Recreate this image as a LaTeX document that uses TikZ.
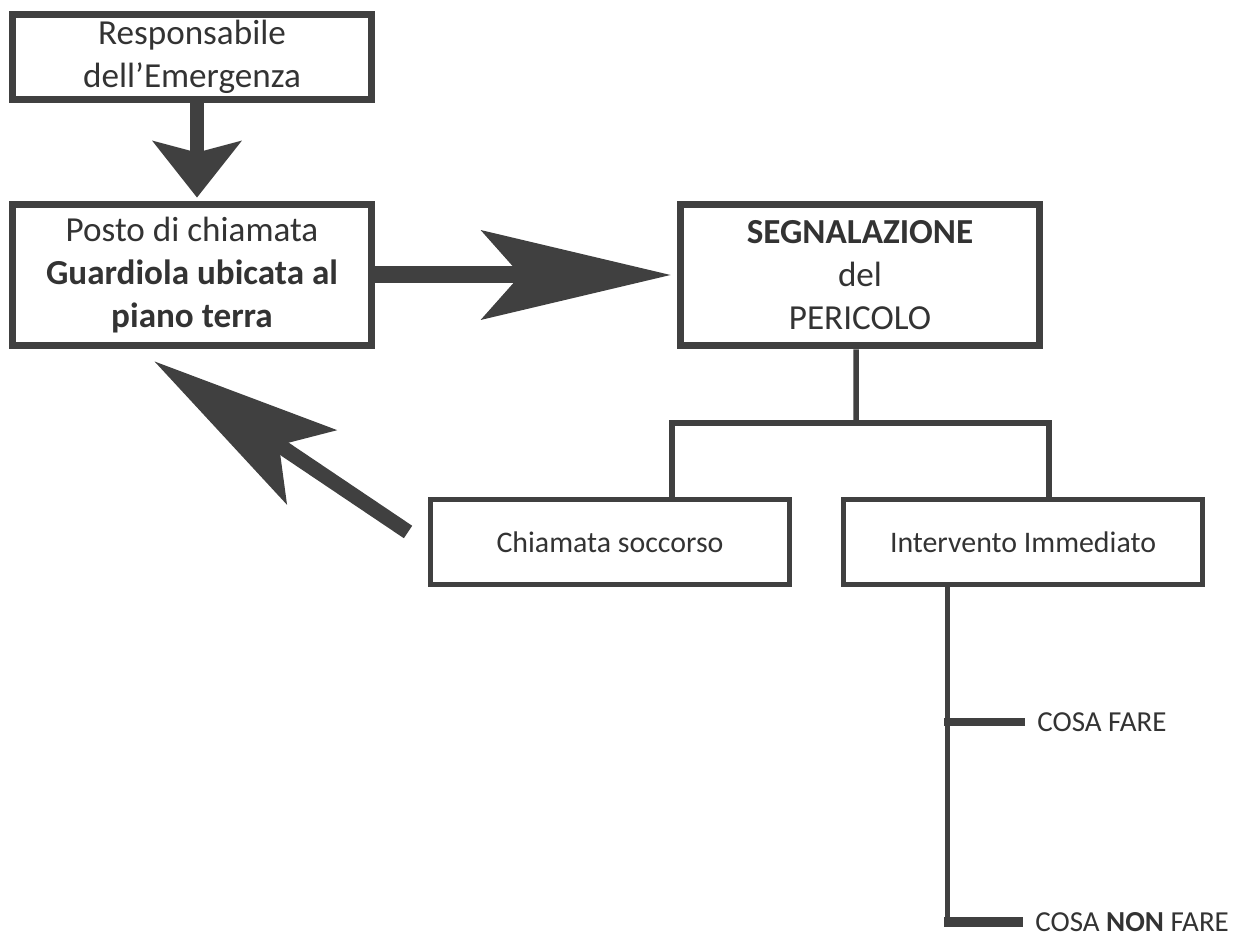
\documentclass[tikz,border=0pt]{standalone}
\usepackage{fontspec}
\setmainfont{Carlito}
\usetikzlibrary{arrows.meta,positioning,calc}
\definecolor{dkgray}{HTML}{404040}
\definecolor{txtgray}{HTML}{333333}
\tikzset{
  bigbox/.style={draw=dkgray,line width=0.14cm,minimum width=7.2cm,inner sep=0pt,align=center,text=txtgray,font=\fontsize{20}{24.4}\selectfont},
  smallbox/.style={draw=dkgray,line width=0.1cm,minimum width=7.18cm,minimum height=1.7cm,inner sep=0pt,align=center,text=txtgray,font=\fontsize{17}{20.7}\selectfont},
  lbl/.style={text=txtgray,inner sep=0pt,font=\fontsize{16.5}{20}\selectfont},
  fatarr/.style={draw=dkgray,line width=#1,-{Stealth[length=3.8cm,width=1.8cm,inset=0.8cm,line width=0pt]}},
  downarr/.style={draw=dkgray,line width=0.28cm,-{Stealth[length=1.14cm,width=1.8cm,inset=0.24cm,line width=0pt]}},
  tree/.style={draw=dkgray,line width=0.11cm},
  spine/.style={draw=dkgray,line width=0.1cm},
  brnch/.style={draw=dkgray,line width=#1}
}
\begin{document}
\begin{tikzpicture}[x=0.02cm,y=-0.02cm]
  \useasboundingbox (0,0) rectangle (1245,935);
  % Top chain
  \node[bigbox, minimum height=1.7cm] (resp) at (192,57) {Responsabile\\dell’Emergenza};
  \node[bigbox, minimum height=2.84cm] (posto) at (192,275) {Posto di chiamata\\\textbf{Guardiola ubicata al}\\\textbf{piano terra}};
  \node[bigbox, minimum height=2.84cm] (segn) at (860,275) {\textbf{SEGNALAZIONE}\\del\\PERICOLO};

  % Second level
  \node[smallbox] (chiam) at (610,542) {Chiamata soccorso};
  \node[smallbox] (interv) at (1023,542) {Intervento Immediato};

  % Labels on the right
  \node[lbl, anchor=west] (fare) at (1037,722) {COSA FARE};
  \node[lbl, anchor=west] (nonfare) at (1035,922) {COSA \textbf{NON} FARE};

  % Big arrows
  \draw[downarr, shorten >=0.06cm] ([xshift=0.1cm]resp.south) -- ([xshift=0.1cm]posto.north);
  \draw[fatarr=0.34cm, shorten >=0.12cm] (posto.east) -- (segn.west);
  \coordinate (cstart) at ($(chiam.west)+(-20,-10)$);
  \coordinate (ptip) at ($(posto.south west)+(146,12)$);
  \draw[fatarr=0.3cm] (cstart) -- (ptip);

  % Tree below the warning box
  \coordinate (hub) at (856,423);
  \draw[tree] ([xshift=-0.08cm]segn.south) -- (hub);
  \draw[tree] ([xshift=1.24cm]chiam.north) |- (hub) -| ([xshift=0.52cm]interv.north);

  % Spine with the two branches
  \coordinate (ivtap) at ([xshift=-1.52cm]interv.south);
  \draw[spine] (ivtap) -- (ivtap |- nonfare.west);
  \draw[brnch=0.16cm] (ivtap |- fare.west) ++(-3,0) -- ([xshift=-0.24cm]fare.west);
  \draw[brnch=0.22cm] (ivtap |- nonfare.west) ++(-3,0) -- ([xshift=-0.24cm]nonfare.west);
\end{tikzpicture}
\end{document}
